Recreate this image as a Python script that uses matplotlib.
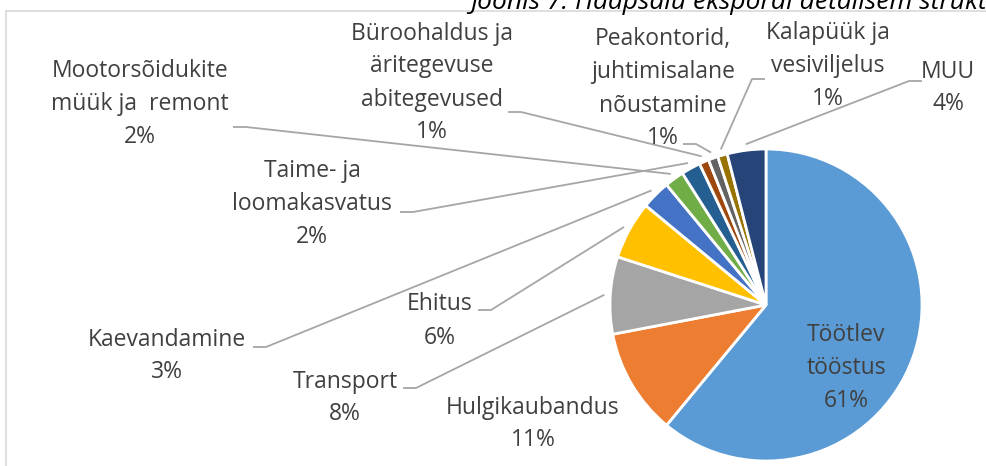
#! /usr/bin/env python3

"Pie chart of Haapsalu export structure"

import numpy as np
import matplotlib
matplotlib.use("Agg")
import matplotlib.pyplot as plt

plt.rcParams['font.family'] = ['Open Sans', 'DejaVu Sans']

# data, clockwise from 12 o'clock
categories = ["Töötlev\ntööstus", "Hulgikaubandus", "Transport", "Ehitus",
              "Kaevandamine", "Mootorsõidukite\nmüük ja  remont",
              "Taime- ja\nloomakasvatus",
              "Büroohaldus ja\näritegevuse\nabitegevused",
              "Peakontorid,\njuhtimisalane\nnõustamine",
              "Kalapüük ja\nvesiviljelus", "MUU"]
shares = [61, 11, 8, 6, 3, 2, 2, 1, 1, 1, 4]
colors = ["#5B9BD5", "#ED7D31", "#A5A5A5", "#FFC000", "#4472C4", "#70AD47",
          "#255E91", "#9E480E", "#636363", "#997300", "#264478"]

# label layout in pixel coords (x, y from top); leader = start of the
# horizontal stub next to the label (None = no leader line)
label_pos = [(846, 368), (533, 424), (345, 398), (440, 321), (167, 356),
             (140, 104), (312, 204), (432, 83), (663, 89), (828, 66), (948, 88)]
leader_start = [None, None, (403, 388), (478, 310), (253, 347), (233, 127),
                (400, 212), (508, 112), (683, 144), (765, 79), (922, 81)]
stub = 13

W, H = 986, 466
cx, cy, r = 766, 305, 156

fig = plt.figure(figsize=(W / 100, H / 100), dpi=100)
ax = fig.add_axes([0, 0, 1, 1])

wedges, _ = ax.pie(shares, colors=colors, startangle=90, counterclock=False,
                   center=(cx, H - cy), radius=r,
                   wedgeprops=dict(edgecolor='white', linewidth=2))
ax.set_xlim(0, W)
ax.set_ylim(0, H)
ax.set_aspect('equal')
ax.axis('off')

text_color = "#404040"
line_color = "#A6A6A6"
for w, cat, val, pos, lead in zip(wedges, categories, shares, label_pos, leader_start):
    ax.text(pos[0], H - pos[1], "%s\n%d%%" % (cat, val), ha='center', va='center',
            fontsize=16.5, color=text_color, linespacing=1.5)
    if lead is None:
        continue
    mid = np.deg2rad((w.theta1 + w.theta2) / 2)
    ex = cx + (r + 6) * np.cos(mid)
    ey = H - cy + (r + 6) * np.sin(mid)
    sx, sy = lead[0], H - lead[1]
    direction = 1 if ex > sx else -1
    ax.plot([sx, sx + direction * stub, ex], [sy, sy, ey],
            color=line_color, linewidth=1.3, solid_capstyle='butt')

# chart frame (only top and left edges are visible)
ax.plot([6, W], [H - 11, H - 11], color="#D9D9D9", linewidth=1.2)
ax.plot([6, 6], [H - 11, 0], color="#D9D9D9", linewidth=1.2)

# title, cut off at the top of the picture
ax.text(470, H - 9, "Joonis 7. Haapsalu ekspordi detailsem struktuur",
        ha='left', va='baseline', fontsize=19, style='italic', color='black')

fig.savefig("out.png", dpi=100)
